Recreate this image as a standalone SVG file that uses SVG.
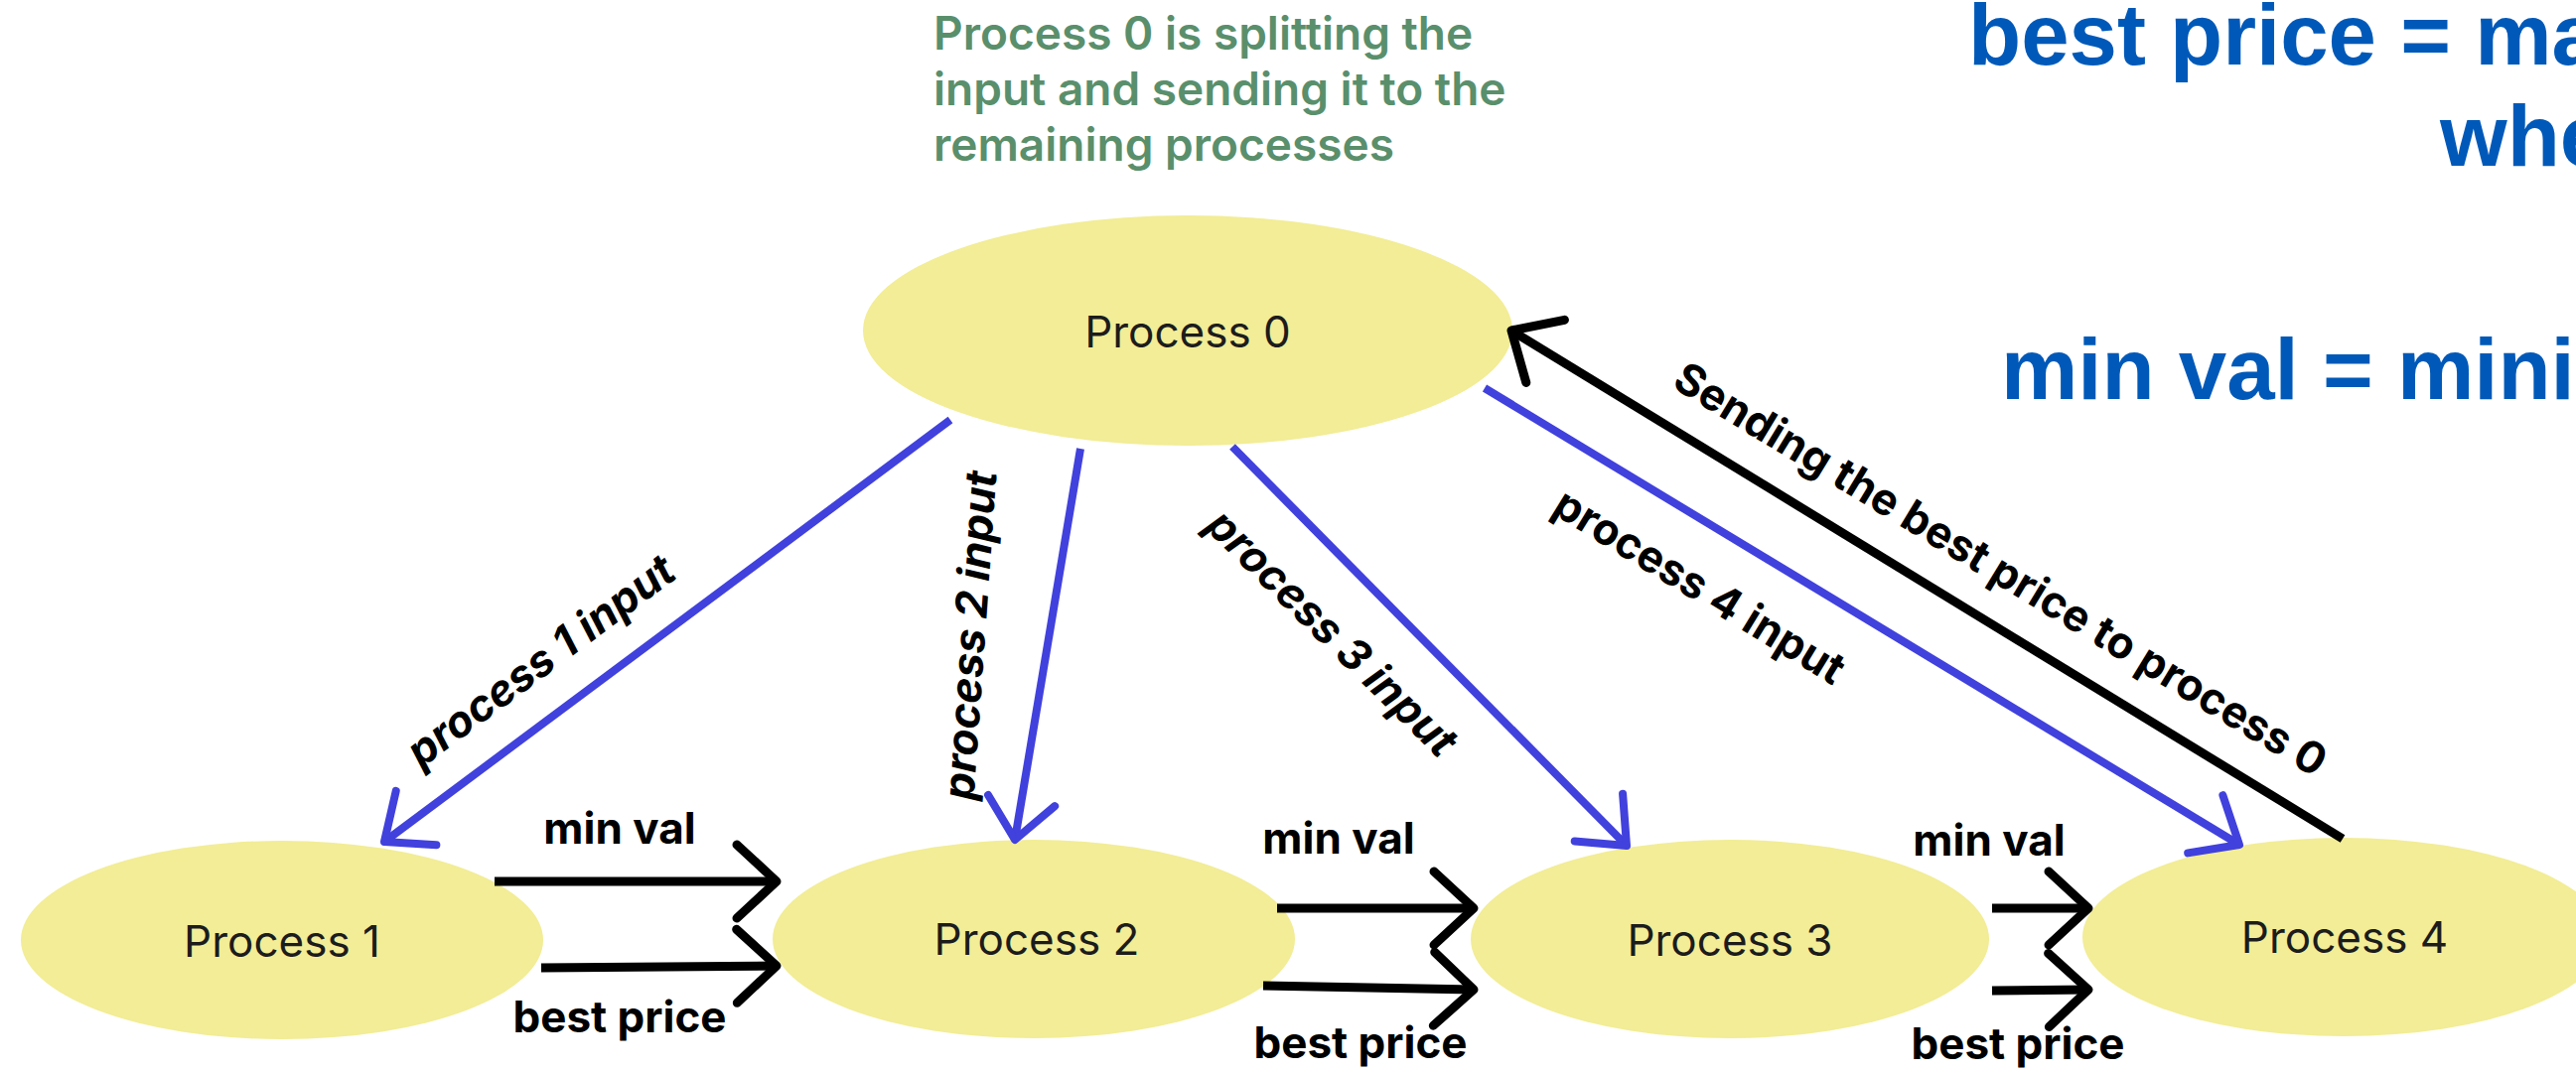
<svg xmlns="http://www.w3.org/2000/svg" width="2594" height="1081" viewBox="0 0 2594 1081">
  <style>
    .node { fill: #F2ED96; }
    .plabel { font-family: Inter, "Noto Sans", sans-serif; font-size: 44px; fill: #1c1c1c; text-anchor: middle; }
    .blue { stroke: #4141DD; stroke-width: 8; fill: none; stroke-linecap: butt; }
    .black { stroke: #000; stroke-width: 9; fill: none; stroke-linecap: butt; }
    .elabel { font-family: Inter, "Noto Sans", sans-serif; font-size: 44px; font-weight: 700; fill: #000; text-anchor: middle; }
    .rlabel { font-family: Inter, "Noto Sans", sans-serif; font-size: 44px; font-weight: 700; fill: #000; text-anchor: middle; dominant-baseline: central; }
    .note { font-family: Inter, "Noto Sans", sans-serif; font-size: 46px; font-weight: 600; fill: #5A8F6C; }
    .heading { font-family: "Liberation Sans", Arial, sans-serif; font-size: 87px; font-weight: 700; fill: #0059B8; }
  </style>
  <defs>
    <marker id="ahBlue" viewBox="-70 -50 80 100" refX="0" refY="0" markerWidth="80" markerHeight="100" markerUnits="userSpaceOnUse" orient="auto" overflow="visible">
      <path d="M-40,-34 L0,0 L-40,34" fill="none" stroke="#4141DD" stroke-width="8" stroke-linecap="round" stroke-linejoin="round"/>
    </marker>
    <marker id="ahBlack" viewBox="-70 -50 80 100" refX="0" refY="0" markerWidth="80" markerHeight="100" markerUnits="userSpaceOnUse" orient="auto" overflow="visible">
      <path d="M-40,-37 L0,0 L-40,37" fill="none" stroke="#000" stroke-width="9" stroke-linecap="round" stroke-linejoin="round"/>
    </marker>
  </defs>
  <rect width="2594" height="1081" fill="#fff"/>

  <g id="note">
    <text class="note" x="940" y="50">Process 0 is splitting the</text>
    <text class="note" x="940" y="106">input and sending it to the</text>
    <text class="note" x="940" y="162">remaining processes</text>
  </g>

  <g id="legend">
    <text class="heading" x="1982" y="65">best price = ma</text>
    <text class="heading" x="2457" y="167">whe</text>
    <text class="heading" x="2015" y="402">min val = mini</text>
  </g>

  <g id="process0">
    <ellipse class="node" cx="1196" cy="333" rx="327" ry="116"/>
    <text class="plabel" x="1196" y="350">Process 0</text>
  </g>
  <g id="process1">
    <ellipse class="node" cx="284" cy="947" rx="263" ry="100"/>
    <text class="plabel" x="284" y="964">Process 1</text>
  </g>
  <g id="process2">
    <ellipse class="node" cx="1041" cy="946" rx="263" ry="100"/>
    <text class="plabel" x="1044" y="962">Process 2</text>
  </g>
  <g id="process3">
    <ellipse class="node" cx="1742" cy="946" rx="261" ry="100"/>
    <text class="plabel" x="1742" y="963">Process 3</text>
  </g>
  <g id="process4">
    <ellipse class="node" cx="2360" cy="944" rx="263" ry="100"/>
    <text class="plabel" x="2361" y="960">Process 4</text>
  </g>

  <g id="connectors">
    <line class="blue" x1="957" y1="423" x2="387" y2="848" marker-end="url(#ahBlue)"/>
    <line class="blue" x1="1088" y1="452" x2="1022" y2="846" marker-end="url(#ahBlue)"/>
    <line class="blue" x1="1241" y1="450" x2="1638" y2="852" marker-end="url(#ahBlue)"/>
    <line class="blue" x1="1495" y1="391" x2="2255" y2="851" marker-end="url(#ahBlue)"/>
    <line class="black" x1="2359" y1="845" x2="1522" y2="333" marker-end="url(#ahBlack)"/>

    <line class="black" x1="498" y1="888" x2="782" y2="888" marker-end="url(#ahBlack)"/>
    <line class="black" x1="545" y1="975" x2="782" y2="973" marker-end="url(#ahBlack)"/>
    <line class="black" x1="1286" y1="915" x2="1484" y2="915" marker-end="url(#ahBlack)"/>
    <line class="black" x1="1272" y1="993" x2="1484" y2="997" marker-end="url(#ahBlack)"/>
    <line class="black" x1="2006" y1="915" x2="2103" y2="915" marker-end="url(#ahBlack)"/>
    <line class="black" x1="2006" y1="998" x2="2103" y2="997" marker-end="url(#ahBlack)"/>

    <text class="rlabel" font-style="italic" transform="translate(544,665) rotate(-36.7)">process 1 input</text>
    <text class="rlabel" font-style="italic" transform="translate(976,640) rotate(-86)">process 2 input</text>
    <text class="rlabel" font-style="italic" transform="translate(1342,637) rotate(44.5)">process 3 input</text>
    <text class="rlabel" font-weight="600" transform="translate(1712,590) rotate(31.5)">process 4 input</text>
    <text class="rlabel" font-weight="600" font-size="42" transform="translate(2015,573) rotate(31.3)">Sending the best price to process 0</text>

    <text class="elabel" x="624" y="850">min val</text>
    <text class="elabel" x="624" y="1040">best price</text>
    <text class="elabel" x="1348" y="860">min val</text>
    <text class="elabel" x="1370" y="1066">best price</text>
    <text class="elabel" x="2003" y="862">min val</text>
    <text class="elabel" x="2032" y="1067">best price</text>
  </g>
</svg>
